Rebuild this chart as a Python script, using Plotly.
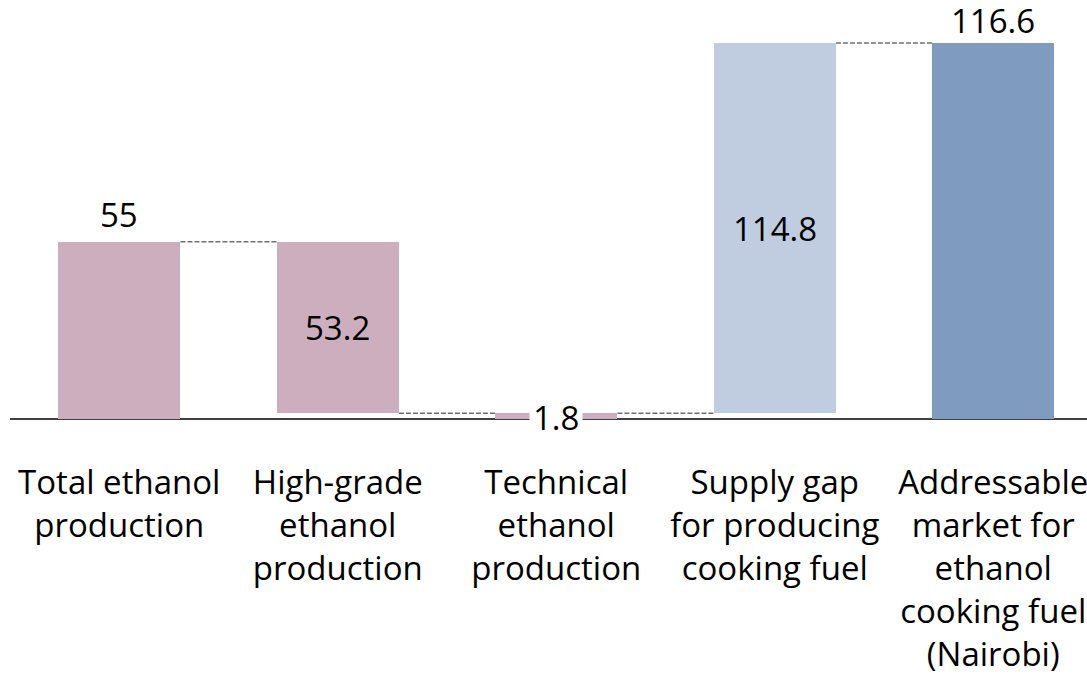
import plotly.graph_objects as go

categories = [
    "Total ethanol<br>production",
    "High-grade<br>ethanol<br>production",
    "Technical<br>ethanol<br>production",
    "Supply gap<br>for producing<br>cooking fuel",
    "Addressable<br>market for<br>ethanol<br>cooking fuel<br>(Nairobi)",
]
values = [55, 53.2, 1.8, 114.8, 116.6]
bases = [0, 1.8, 0, 1.8, 0]
label_pos = ["above", "inside", "axis", "inside", "above"]
colors = ["#CCAEBE", "#CCAEBE", "#CCAEBE", "#C0CDE0", "#7F9BC0"]

FONT = "Open Sans"
bar_w = 0.56
x = list(range(len(categories)))

top = max(b + v for b, v in zip(bases, values))
px_per_unit = 376 / top
y_hi = 419 / px_per_unit
y_lo = -41 / px_per_unit

fig = go.Figure()
fig.add_trace(go.Bar(
    x=x, y=values, base=bases, width=bar_w,
    marker=dict(color=colors, line=dict(width=0)),
    hoverinfo="skip", showlegend=False,
))

# value labels
for i, (v, b, pos) in enumerate(zip(values, bases, label_pos)):
    txt = f"{v:g}"
    if pos == "above":
        # keep the label inside the page when the bar reaches the top
        room = (y_hi - (b + v)) * px_per_unit - 45
        fig.add_annotation(x=i, y=b + v, text=txt, showarrow=False,
                           yanchor="bottom", yshift=min(3, room),
                           font=dict(family=FONT, size=33, color="black"))
    elif pos == "inside":
        fig.add_annotation(x=i, y=b + v / 2, text=txt, showarrow=False,
                           font=dict(family=FONT, size=33, color="black"))
    else:
        fig.add_annotation(x=i, y=b + v / 2, text=txt, showarrow=False,
                           bgcolor="white", borderpad=3, yshift=-1,
                           font=dict(family=FONT, size=33, color="black"))

# dashed connectors between neighbouring bars at their shared edge
for i in range(len(values) - 1):
    e0 = {round(bases[i], 3), round(bases[i] + values[i], 3)}
    e1 = {round(bases[i + 1], 3), round(bases[i + 1] + values[i + 1], 3)}
    level = max(e0 & e1)
    fig.add_shape(type="line", xref="x", yref="y",
                  x0=i + bar_w / 2, x1=i + 1 - bar_w / 2, y0=level, y1=level,
                  line=dict(color="#707070", width=1.5, dash="5px,2px"),
                  layer="below")

# baseline
fig.add_shape(type="line", xref="paper", yref="y", x0=0, x1=1, y0=0, y1=0,
              line=dict(color="#404040", width=2), layer="below")

fig.update_layout(
    width=1087, height=676,
    margin=dict(l=10, r=0, t=0, b=216),
    plot_bgcolor="white", paper_bgcolor="white",
    bargap=0,
    xaxis=dict(range=[-0.5, -0.5 + 1077 / 218.5], tickvals=x, ticktext=categories,
               showgrid=False, zeroline=False, showline=False, ticks="",
               automargin=False, ticklabeloverflow="allow",
               tickfont=dict(family=FONT, size=33, color="black"), tickangle=0),
    yaxis=dict(range=[y_lo, y_hi], visible=False, automargin=False),
)

# drop the default 8px body margin so the figure fills the window
fig.write_html("out.html", config={"displayModeBar": False},
               post_script="document.body.style.margin='0';")
